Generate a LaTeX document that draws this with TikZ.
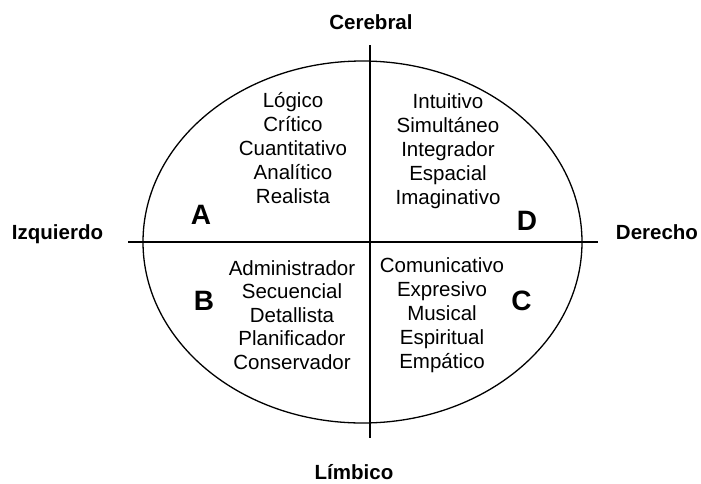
\documentclass[tikz,border=0pt]{standalone}
\usepackage{fontspec}
\setmainfont{Liberation Sans}
\usetikzlibrary{positioning}

\begin{document}
\begin{tikzpicture}[x=1pt,y=-1pt,line width=1.3pt,
 word/.style={anchor=base,inner sep=0pt,font=\fontsize{20.5}{24}\selectfont},
 side/.style={anchor=base,inner sep=0pt,font=\fontsize{20.5}{24}\selectfont\bfseries},
 letter/.style={anchor=base,inner sep=0pt,font=\fontsize{28}{32}\selectfont\bfseries}]

  \fill[white] (0,0) rectangle (701,483);
  \useasboundingbox (0,0) rectangle (701,483);

  % cross and ellipse
  \coordinate (top) at (370,45);
  \coordinate (bottom) at (370,438);
  \coordinate (left) at (128,242);
  \coordinate (right) at (598,242);
  \draw (362.5,242) ellipse [x radius=219.5pt, y radius=181pt];
  \draw (top) -- (bottom);
  \draw (left) -- (right);

  % the four sides
  \node[side] (cerebral) at (371,29) {Cerebral};
  \node[side] (limbico) at (354,479) {Límbico};
  \node[side] (izq) at (57.5,239) {Izquierdo};
  \node[side] (der) at (657,239) {Derecho};

  % quadrant letters
  \node[letter] (A) at (201,224) {A};
  \node[letter] (B) at (204,310) {B};
  \node[letter] (C) at (521.5,310) {C};
  \node[letter] (D) at (527,230) {D};

  % words
  \foreach \w [count=\i from 0] in {Lógico,Crítico,Cuantitativo,Analítico,Realista}
   \node[word] (A-\i) at (293,107+24*\i) {\w};
  \foreach \w [count=\i from 0] in {Intuitivo,Simultáneo,Integrador,Espacial,Imaginativo}
   \node[word] (D-\i) at (448,108+24*\i) {\w};
  \foreach \w [count=\i from 0] in {Administrador,Secuencial,Detallista,Planificador,Conservador}
   \node[word] (B-\i) at (292,275+23.5*\i) {\w};
  \foreach \w [count=\i from 0] in {Comunicativo,Expresivo,Musical,Espiritual,Empático}
   \node[word] (C-\i) at (442,272+24*\i) {\w};
\end{tikzpicture}
\end{document}
